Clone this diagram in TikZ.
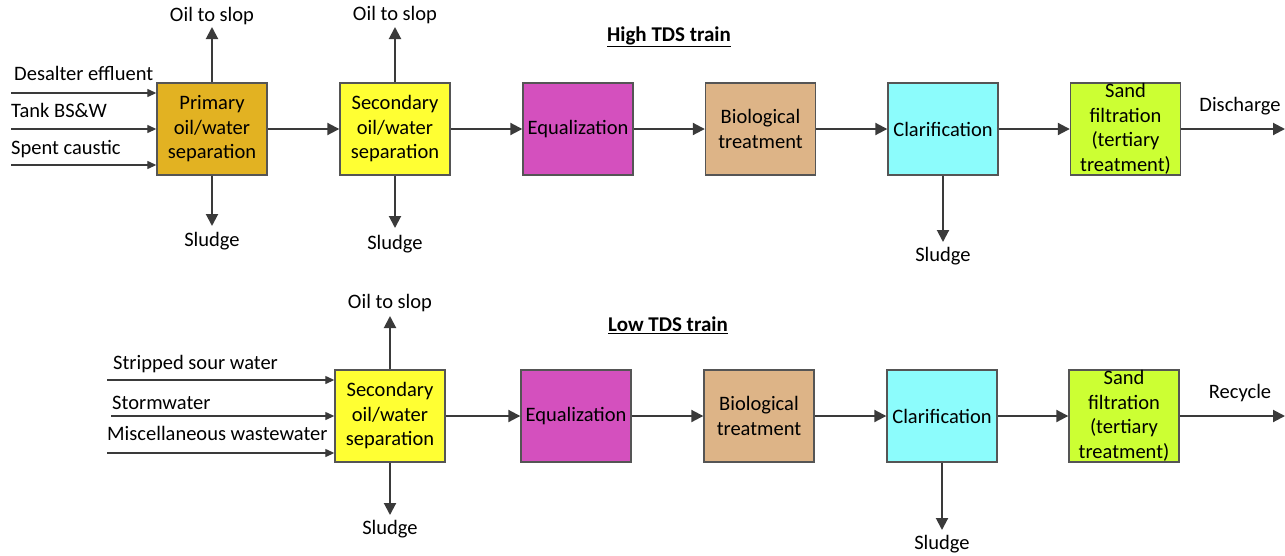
\documentclass[tikz,border=0pt]{standalone}
\usepackage{fontspec}
\setmainfont{Carlito}
\usetikzlibrary{arrows.meta}
\definecolor{linegray}{HTML}{3A3A3A}
\definecolor{boxedge}{HTML}{555555}
\definecolor{primcol}{HTML}{E2B222}
\definecolor{seccol}{HTML}{FFFF33}
\definecolor{eqcol}{HTML}{D450BE}
\definecolor{biocol}{HTML}{DDB487}
\definecolor{clarcol}{HTML}{8CFCFC}
\definecolor{sandcol}{HTML}{CCFF33}
\tikzset{
  unit/.style={draw=boxedge, line width=1.4pt, minimum width=110pt, minimum height=92pt,
    inner sep=0pt, align=center, font=\fontsize{20.5}{24.5}\selectfont},
  lbl/.style={font=\fontsize{20.5}{24}\selectfont, inner sep=0pt},
  title/.style={font=\bfseries\fontsize{21}{24}\selectfont, inner sep=0pt},
  flow/.style={draw=linegray, line width=2pt, -{Triangle[length=12pt,width=12pt]}},
  feed/.style={draw=linegray, line width=1.3pt, -{Triangle[length=9pt,width=8pt]}},
}
\begin{document}
\begin{tikzpicture}[x=1pt,y=-1pt]
\useasboundingbox (0,0) rectangle (1285,555);

% ---------------- High TDS train ----------------
\node[title] (htitle) at (669,37) {\underline{High TDS train}};
\node[unit, fill=primcol] (p1) at (212,129) {Primary\\oil/water\\separation};
\node[unit, fill=seccol]  (s1) at (395,129) {Secondary\\oil/water\\separation};
\node[unit, fill=eqcol]   (e1) at (578,129) {Equalization};
\node[unit, fill=biocol]  (b1) at (760.5,129) {Biological\\treatment};
\node[unit, fill=clarcol] (c1) at (943,129) {Clarification};
\node[unit, fill=sandcol] (f1) at (1125.5,129) {Sand\\filtration\\(tertiary\\treatment)};

% feeds
\coordinate (in1a) at (11,93);
\coordinate (in1b) at (11,129);
\coordinate (in1c) at (11,165);
\node[lbl, anchor=base west] (l1a) at (14,80) {Desalter effluent};
\node[lbl, anchor=base west] (l1b) at (11,117) {Tank BS\&W};
\node[lbl, anchor=base west] (l1c) at (11,154) {Spent caustic};
\draw[feed] (in1a) -- (p1.west |- in1a);
\draw[feed] (in1b) -- (p1.west |- in1b);
\draw[feed] (in1c) -- (p1.west |- in1c);

% oil and sludge
\node[lbl] (o1) at (212,16) {Oil to slop};
\node[lbl] (o2) at (395,15) {Oil to slop};
\node[lbl] (d1) at (212,241) {Sludge};
\node[lbl] (d2) at (395,244) {Sludge};
\node[lbl] (d3) at (943,256) {Sludge};
\coordinate (o1t) at (212,27);
\coordinate (o2t) at (395,27);
\coordinate (d1b) at (212,226);
\coordinate (d2b) at (395,228);
\coordinate (d3b) at (943,242);
\draw[flow] (p1.north) -- (o1t);
\draw[flow] (s1.north) -- (o2t);
\draw[flow] (p1.south) -- (d1b);
\draw[flow] (s1.south) -- (d2b);
\draw[flow] (c1.south) -- (d3b);

% main line
\draw[flow] (p1) -- (s1);
\draw[flow] (s1) -- (e1);
\draw[flow] (e1) -- (b1);
\draw[flow] (b1) -- (c1);
\draw[flow] (c1) -- (f1);
\coordinate (out1) at (1285,129);
\draw[flow] (f1.east) -- (out1);
\node[lbl] (dis) at (1240,106) {Discharge};

% ---------------- Low TDS train ----------------
\node[title] (ltitle) at (668,325) {\underline{Low TDS train}};
\node[unit, fill=seccol]  (s2) at (390,416) {Secondary\\oil/water\\separation};
\node[unit, fill=eqcol]   (e2) at (576,416) {Equalization};
\node[unit, fill=biocol]  (b2) at (759,416) {Biological\\treatment};
\node[unit, fill=clarcol] (c2) at (942,416) {Clarification};
\node[unit, fill=sandcol] (f2) at (1124,416) {Sand\\filtration\\(tertiary\\treatment)};

\coordinate (in2a) at (107,380);
\coordinate (in2b) at (111,416);
\coordinate (in2c) at (107,453);
\node[lbl, anchor=base west] (l2a) at (113,369) {Stripped sour water};
\node[lbl, anchor=base west] (l2b) at (112,409) {Stormwater};
\node[lbl, anchor=base west] (l2c) at (107,440) {Miscellaneous wastewater};
\draw[feed] (in2a) -- (s2.west |- in2a);
\draw[feed] (in2b) -- (s2.west |- in2b);
\draw[feed] (in2c) -- (s2.west |- in2c);

\node[lbl] (o3) at (390,303) {Oil to slop};
\node[lbl] (d4) at (390,529) {Sludge};
\node[lbl] (d5) at (942,544) {Sludge};
\coordinate (o3t) at (390,316);
\coordinate (d4b) at (390,515);
\coordinate (d5b) at (942,530);
\draw[flow] (s2.north) -- (o3t);
\draw[flow] (s2.south) -- (d4b);
\draw[flow] (c2.south) -- (d5b);

\draw[flow] (s2) -- (e2);
\draw[flow] (e2) -- (b2);
\draw[flow] (b2) -- (c2);
\draw[flow] (c2) -- (f2);
\coordinate (out2) at (1285,416);
\draw[flow] (f2.east) -- (out2);
\node[lbl] (rec) at (1240,393) {Recycle};
\end{tikzpicture}
\end{document}
